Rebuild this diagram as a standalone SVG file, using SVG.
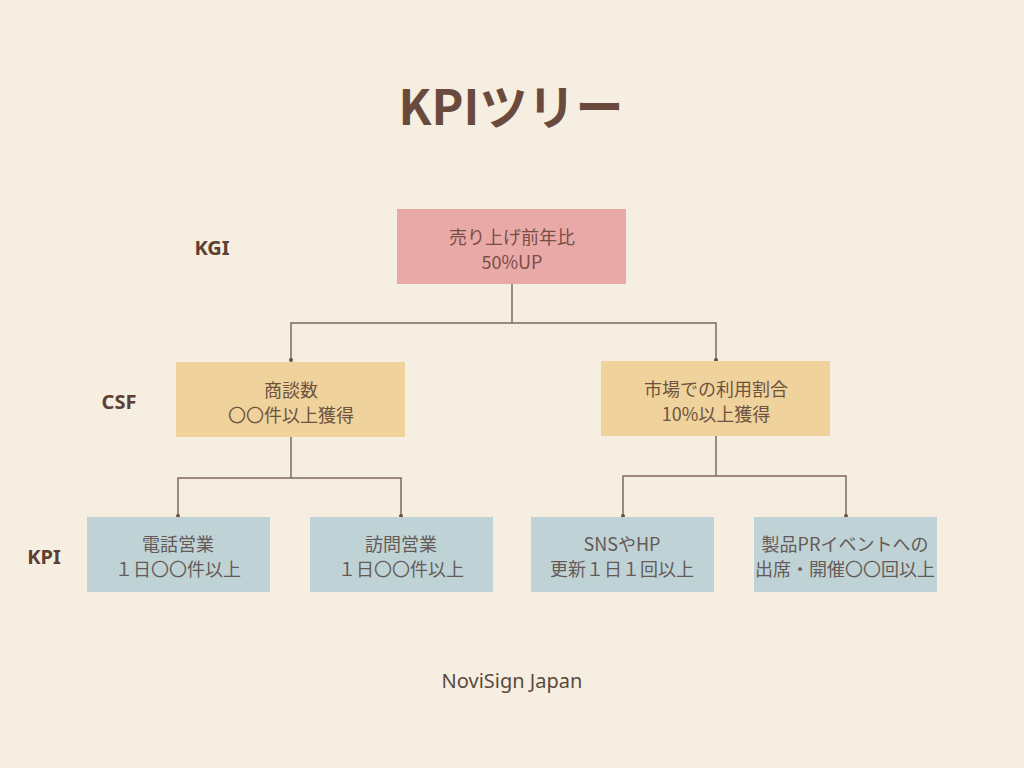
<svg xmlns="http://www.w3.org/2000/svg" width="1024" height="768" viewBox="0 0 1024 768">
<style>
.jp{font-family:"Noto Sans CJK JP","Noto Sans",sans-serif;}
.title{font-size:48px;font-weight:700;fill:#6B4A3E;}
.lvl{font-family:"Noto Sans","Noto Sans CJK JP",sans-serif;font-size:20px;font-weight:700;fill:#5C4033;}
.t{font-size:18px;text-anchor:middle;}
.kgi rect{fill:#E9A9A7;}
.kgi text{fill:#7A4D49;}
.csf rect{fill:#EFD29C;}
.csf text{fill:#6E5240;}
.kpi rect{fill:#BFD3D6;}
.kpi text{fill:#655A57;}
.conn path{fill:none;stroke:#7D6A5C;stroke-width:1.5;}
.conn circle{fill:#6B5040;}
.foot{font-family:"Noto Sans",sans-serif;font-size:20px;fill:#5A4A40;text-anchor:middle;}
</style>
<rect width="1024" height="768" fill="#F6EEE0"/>
<text class="jp title" x="511" y="125" text-anchor="middle">KPIツリー</text>
<text class="lvl" x="212" y="255" text-anchor="middle">KGI</text>
<text class="lvl" x="119" y="409" text-anchor="middle">CSF</text>
<text class="lvl" x="44" y="564" text-anchor="middle">KPI</text>
<g class="conn">
<path d="M512 284V323M291 361V323H716V361"/>
<path d="M291 437V478M178 517V478H401V517"/>
<path d="M716 436V476M623 517V476H846V517"/>
<circle cx="291" cy="360" r="2"/><circle cx="716" cy="360" r="2"/>
<circle cx="178" cy="516" r="2"/><circle cx="401" cy="516" r="2"/>
<circle cx="623" cy="516" r="2"/><circle cx="846" cy="516" r="2"/>
</g>
<g id="kgi" class="kgi"><rect x="397" y="209" width="229" height="75"/>
<text class="jp t" x="512" y="244">売り上げ前年比</text><text class="jp t" x="512" y="269">50%UP</text></g>
<g id="csf1" class="csf"><rect x="176" y="362" width="229" height="75"/>
<text class="jp t" x="291" y="397">商談数</text><text class="jp t" x="291" y="422">〇〇件以上獲得</text></g>
<g id="csf2" class="csf"><rect x="601" y="361" width="229" height="75"/>
<text class="jp t" x="716" y="396">市場での利用割合</text><text class="jp t" x="716" y="421">10%以上獲得</text></g>
<g id="kpi1" class="kpi"><rect x="87" y="517" width="183" height="75"/>
<text class="jp t" x="178" y="551">電話営業</text><text class="jp t" x="178" y="576">１日〇〇件以上</text></g>
<g id="kpi2" class="kpi"><rect x="310" y="517" width="183" height="75"/>
<text class="jp t" x="401" y="551">訪問営業</text><text class="jp t" x="401" y="576">１日〇〇件以上</text></g>
<g id="kpi3" class="kpi"><rect x="531" y="517" width="183" height="75"/>
<text class="jp t" x="622" y="551">SNSやHP</text><text class="jp t" x="622" y="576">更新１日１回以上</text></g>
<g id="kpi4" class="kpi"><rect x="754" y="517" width="183" height="75"/>
<text class="jp t" x="845" y="551">製品PRイベントへの</text><text class="jp t" x="845" y="576">出席・開催〇〇回以上</text></g>
<text class="foot" x="512" y="688">NoviSign Japan</text>
</svg>
